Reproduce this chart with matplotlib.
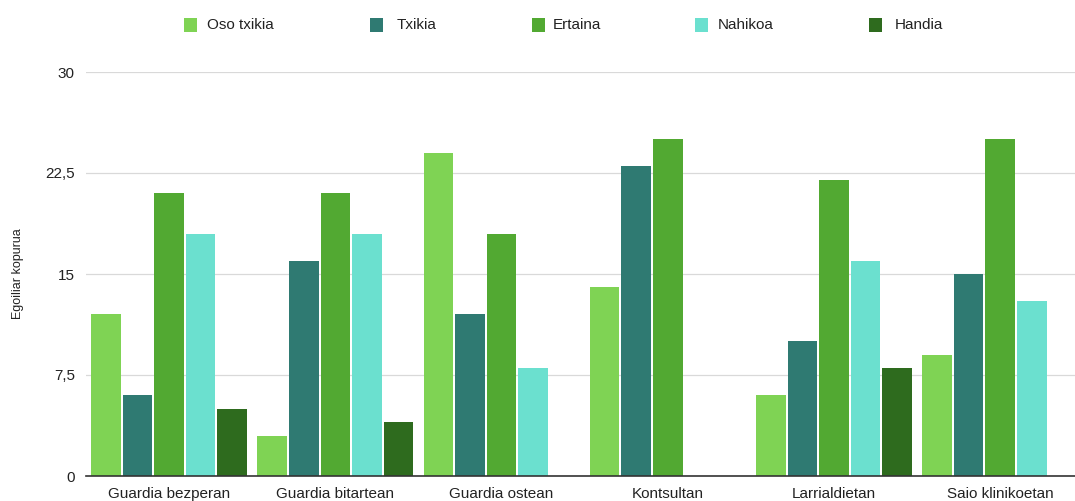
import matplotlib
matplotlib.use("Agg")
import matplotlib.pyplot as plt
from matplotlib.patches import Rectangle
import numpy as np

plt.rcParams['font.family'] = ['Liberation Sans', 'DejaVu Sans']

categories = ["Guardia bezperan", "Guardia bitartean", "Guardia ostean",
              "Kontsultan", "Larrialdietan", "Saio klinikoetan"]
series_names = ["Oso txikia", "Txikia", "Ertaina", "Nahikoa", "Handia"]
oso_txikia = [12, 3, 24, 14, 6, 9]
txikia = [6, 16, 12, 23, 10, 15]
ertaina = [21, 21, 18, 25, 22, 25]
nahikoa = [18, 18, 8, 0, 16, 13]
handia = [5, 4, 0, 0, 8, 0]
yticks = [0, 7.5, 15, 22.5, 30]
ytick_labels = ["0", "7,5", "15", "22,5", "30"]

series = [oso_txikia, txikia, ertaina, nahikoa, handia]
colors = ["#7fd354", "#2f7a72", "#52a932", "#6be0cf", "#2e6b1e"]

W, H = 1075, 501
fig = plt.figure(figsize=(W / 100, H / 100), dpi=100)
ax = fig.add_axes([86 / W, 1 - 476 / H, 1 - 86 / W, (476 - 72) / H])

x = np.arange(len(categories))
step = 0.19
width = 0.178
for k, (vals, col) in enumerate(zip(series, colors)):
    ax.bar(x + (k - 2) * step, vals, width=width, color=col, label=series_names[k], zorder=3)

ax.set_ylim(0, 30)
ax.set_xlim(-0.5, 5.45)
ax.set_yticks(yticks)
ax.set_yticklabels(ytick_labels)
ax.set_xticks(x)
ax.set_xticklabels(categories)
ax.tick_params(axis='both', length=0, labelsize=11, colors="#222222")
ax.tick_params(axis='y', pad=8)
ax.tick_params(axis='x', pad=8)
ax.grid(axis='y', color="#d9d9d9", linewidth=0.9, zorder=0)
for s in ["top", "right", "left"]:
    ax.spines[s].set_visible(False)
ax.spines["bottom"].set_color("#333333")
ax.spines["bottom"].set_linewidth(1.2)
ax.spines["bottom"].set_zorder(4)

ax.set_ylabel("Egoiliar kopurua", fontsize=9, color="#222222")
ax.yaxis.set_label_coords(-62 / (W - 86), 0.5)

# Legend row across the top, square swatches followed by labels
swatch_x = [184, 370, 532, 695, 869]
label_x = [207, 397, 553, 718, 895]
sq = 13
cy = 25
for name, col, sx, tx in zip(series_names, colors, swatch_x, label_x):
    fig.patches.append(Rectangle((sx / W, 1 - (cy + sq / 2) / H), sq / W, sq / H,
                                 transform=fig.transFigure, facecolor=col,
                                 edgecolor="none", figure=fig))
    fig.text(tx / W, 1 - cy / H, name, fontsize=11, color="#222222",
             ha="left", va="center")

fig.savefig("out.png", dpi=100)
